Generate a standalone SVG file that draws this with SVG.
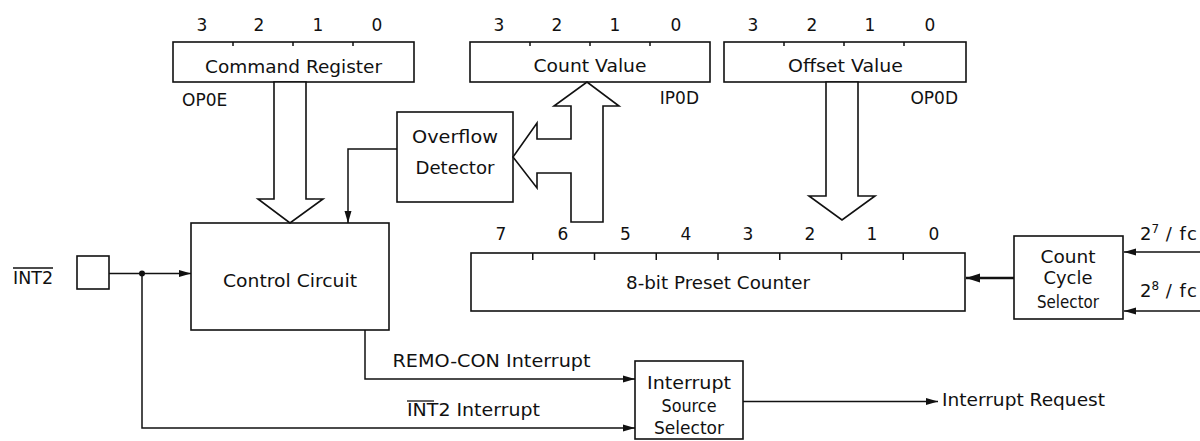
<svg xmlns="http://www.w3.org/2000/svg" width="1200" height="441" viewBox="0 0 1200 441">
<style>
  .box{fill:#fff;stroke:#111;stroke-width:1.6}
  .hol{fill:#fff;stroke:#111;stroke-width:1.6;stroke-linejoin:miter}
  .ln{fill:none;stroke:#111;stroke-width:1.5}
  .tk{stroke:#111;stroke-width:1.5}
  text{font-family:"DejaVu Sans","Liberation Sans",sans-serif;font-size:18px;fill:#111}
  .c{text-anchor:middle}
  .e{text-anchor:end}
  .s{font-size:17px}
</style>
<defs>
  <marker id="ah" markerUnits="userSpaceOnUse" markerWidth="12" markerHeight="8" refX="12" refY="4" orient="auto">
    <path d="M0,0.5 L12,4 L0,7.5 z" fill="#111"/>
  </marker>
  <marker id="ahb" markerUnits="userSpaceOnUse" markerWidth="14" markerHeight="10" refX="14" refY="5" orient="auto">
    <path d="M0,0.5 L14,5 L0,9.5 z" fill="#111"/>
  </marker>
</defs>

<g id="command-register">
  <rect class="box" x="173" y="42" width="241" height="40"/>
  <line class="tk" x1="233" y1="42" x2="233" y2="46"/>
  <line class="tk" x1="293" y1="42" x2="293" y2="46"/>
  <line class="tk" x1="353" y1="42" x2="353" y2="46"/>
  <text class="c s" x="202" y="31">3</text>
  <text class="c s" x="259" y="31">2</text>
  <text class="c s" x="318" y="31">1</text>
  <text class="c s" x="377" y="31">0</text>
  <text class="c" x="293.5" y="73" textLength="177" lengthAdjust="spacingAndGlyphs">Command Register</text>
  <text class="s" x="182" y="106">OP0E</text>
</g>

<g id="count-value">
  <rect class="box" x="470" y="42" width="240" height="40"/>
  <line class="tk" x1="530" y1="42" x2="530" y2="46"/>
  <line class="tk" x1="590" y1="42" x2="590" y2="46"/>
  <line class="tk" x1="650" y1="42" x2="650" y2="46"/>
  <text class="c s" x="499" y="31">3</text>
  <text class="c s" x="557" y="31">2</text>
  <text class="c s" x="615" y="31">1</text>
  <text class="c s" x="676" y="31">0</text>
  <text class="c" x="590" y="72" textLength="113" lengthAdjust="spacingAndGlyphs">Count Value</text>
  <text class="s e" x="699" y="104">IP0D</text>
</g>

<g id="offset-value">
  <rect class="box" x="724" y="42" width="242" height="40"/>
  <line class="tk" x1="784" y1="42" x2="784" y2="46"/>
  <line class="tk" x1="844" y1="42" x2="844" y2="46"/>
  <line class="tk" x1="904" y1="42" x2="904" y2="46"/>
  <text class="c s" x="753" y="31">3</text>
  <text class="c s" x="812" y="31">2</text>
  <text class="c s" x="870" y="31">1</text>
  <text class="c s" x="930" y="31">0</text>
  <text class="c" x="845.5" y="72" textLength="115" lengthAdjust="spacingAndGlyphs">Offset Value</text>
  <text class="s e" x="958" y="104">OP0D</text>
</g>

<g id="overflow-detector">
  <rect class="box" x="397" y="112" width="116" height="90"/>
  <text class="c" x="455" y="143" textLength="86" lengthAdjust="spacingAndGlyphs">Overflow</text>
  <text class="c" x="455" y="174" textLength="79" lengthAdjust="spacingAndGlyphs">Detector</text>
</g>

<g id="control-circuit">
  <rect class="box" x="191" y="223" width="198" height="107"/>
  <text class="c" x="290" y="287" textLength="134" lengthAdjust="spacingAndGlyphs">Control Circuit</text>
</g>

<g id="int2-pin">
  <rect class="box" x="77" y="256" width="32" height="33"/>
  <text class="s" x="13" y="284" textLength="40" lengthAdjust="spacingAndGlyphs">INT2</text>
  <line class="tk" x1="13" y1="268" x2="53" y2="268" style="stroke-width:1.3"/>
</g>

<g id="preset-counter">
  <rect class="box" x="471" y="253" width="494" height="58"/>
  <line class="tk" x1="532.75" y1="253" x2="532.75" y2="260"/>
  <line class="tk" x1="594.5" y1="253" x2="594.5" y2="260"/>
  <line class="tk" x1="656.25" y1="253" x2="656.25" y2="260"/>
  <line class="tk" x1="718" y1="253" x2="718" y2="260"/>
  <line class="tk" x1="779.75" y1="253" x2="779.75" y2="260"/>
  <line class="tk" x1="841.5" y1="253" x2="841.5" y2="260"/>
  <line class="tk" x1="903.25" y1="253" x2="903.25" y2="260"/>
  <text class="c s" x="501" y="240">7</text>
  <text class="c s" x="563" y="240">6</text>
  <text class="c s" x="625.5" y="240">5</text>
  <text class="c s" x="686" y="240">4</text>
  <text class="c s" x="748" y="240">3</text>
  <text class="c s" x="810" y="240">2</text>
  <text class="c s" x="872" y="240">1</text>
  <text class="c s" x="934" y="240">0</text>
  <text class="c" x="718" y="289" textLength="184" lengthAdjust="spacingAndGlyphs">8-bit Preset Counter</text>
</g>

<g id="count-cycle-selector">
  <rect class="box" x="1014" y="236" width="109" height="83"/>
  <text class="c" x="1068" y="263" textLength="55" lengthAdjust="spacingAndGlyphs">Count</text>
  <text class="c" x="1068" y="284" textLength="49" lengthAdjust="spacingAndGlyphs">Cycle</text>
  <text class="c" x="1068" y="308" textLength="62" lengthAdjust="spacingAndGlyphs">Selector</text>
  <text x="1140" y="240">2<tspan font-size="12" dy="-7">7</tspan><tspan dy="7" letter-spacing="1"> / fc</tspan></text>
  <text x="1140" y="297">2<tspan font-size="12" dy="-7">8</tspan><tspan dy="7" letter-spacing="1"> / fc</tspan></text>
</g>

<g id="interrupt-source-selector">
  <rect class="box" x="635" y="361" width="108" height="78"/>
  <text class="c" x="689" y="389" textLength="84" lengthAdjust="spacingAndGlyphs">Interrupt</text>
  <text class="c" x="689" y="412" textLength="55" lengthAdjust="spacingAndGlyphs">Source</text>
  <text class="c" x="689" y="434" textLength="70" lengthAdjust="spacingAndGlyphs">Selector</text>
</g>

<g id="connectors">
  <polygon class="hol" points="274,82 274,199 258,199 290,223 323,199 306,199 306,82"/>
  <polygon class="hol" points="826,82 826,196 809,196 842,220 875,196 858,196 858,82"/>
  <polygon class="hol" points="571,106 554,106 587,82 619,106 603,106 603,222 571,222 571,173 537,173 537,188 513,157 537,123 537,139 571,139"/>
  <polyline class="ln" points="397,149 348,149 348,223" marker-end="url(#ah)"/>
  <line class="ln" x1="109" y1="273.5" x2="191" y2="273.5" marker-end="url(#ah)"/>
  <circle cx="142" cy="273.5" r="3" fill="#111"/>
  <polyline class="ln" points="142,273.5 142,428 635,428" marker-end="url(#ah)"/>
  <polyline class="ln" points="365,330 365,379 635,379" marker-end="url(#ah)"/>
  <line class="ln" x1="743" y1="401.5" x2="938" y2="401.5" marker-end="url(#ah)"/>
  <line class="ln" x1="1014" y1="278" x2="966" y2="278" style="stroke-width:2.6" marker-end="url(#ahb)"/>
  <line class="ln" x1="1200" y1="252" x2="1124" y2="252" marker-end="url(#ah)"/>
  <line class="ln" x1="1200" y1="311" x2="1124" y2="311" marker-end="url(#ah)"/>
  <text class="s" x="392.5" y="367" textLength="198" lengthAdjust="spacingAndGlyphs">REMO-CON Interrupt</text>
  <text class="s" x="407" y="416" textLength="133" lengthAdjust="spacingAndGlyphs">INT2 Interrupt</text>
  <line class="tk" x1="407" y1="401" x2="434" y2="401" style="stroke-width:1.3"/>
  <text class="s" x="942" y="406" textLength="163" lengthAdjust="spacingAndGlyphs">Interrupt Request</text>
</g>
</svg>
